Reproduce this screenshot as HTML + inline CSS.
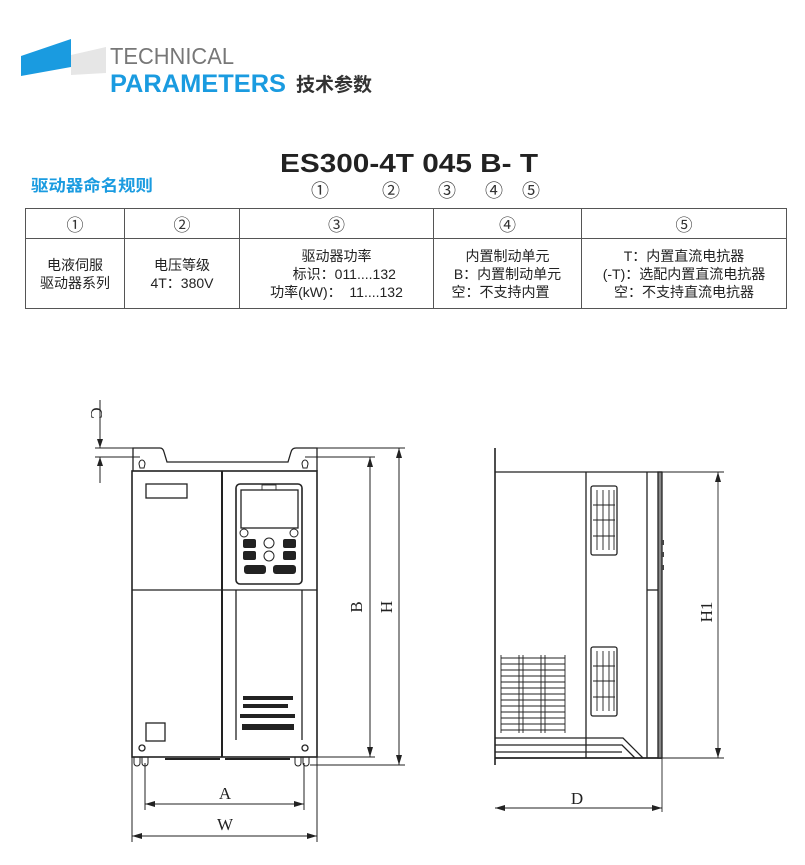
<!DOCTYPE html>
<html><head><meta charset="utf-8"><style>
html,body{margin:0;padding:0;background:#fff;}
body{width:805px;height:865px;position:relative;overflow:hidden;font-family:"Liberation Sans","Noto Sans CJK SC",sans-serif;}
.a{position:absolute;white-space:nowrap;}
table{position:absolute;left:25px;top:208px;border-collapse:collapse;width:762px;font-size:14px;color:#222;}
td{border:1px solid #555;text-align:center;padding:0;line-height:18px;}
.h td{font-size:17px;font-family:"Noto Sans CJK SC",sans-serif;color:#333;}
</style></head><body>
<svg class="a" style="left:0;top:0" width="805" height="865" viewBox="0 0 805 865">
<polygon points="21,56 71,39 71,67 21,76" fill="#1a9be0"/>
<polygon points="71,55 106,47 106,73 71,75" fill="#e6e6e6"/>
<text x="110" y="64" font-size="23" fill="#777" font-family="Liberation Sans" textLength="124" lengthAdjust="spacingAndGlyphs">TECHNICAL</text>
<text x="110" y="92" font-size="25" fill="#1a9be0" font-weight="bold" font-family="Liberation Sans" textLength="176" lengthAdjust="spacingAndGlyphs">PARAMETERS</text>
<text x="296" y="91" font-size="19" fill="#333" font-weight="bold" font-family="Noto Sans CJK SC">技术参数</text>
<text x="31" y="191" font-size="16" fill="#1a9be0" font-weight="bold" font-family="Noto Sans CJK SC" textLength="122" lengthAdjust="spacingAndGlyphs">驱动器命名规则</text>
<text x="280" y="172" font-size="26" fill="#222" font-weight="bold" font-family="Liberation Sans" textLength="258" lengthAdjust="spacingAndGlyphs">ES300-4T  045  B- T</text>
<g font-size="18" fill="#333" font-family="Noto Sans CJK SC" text-anchor="middle">
<text x="320" y="197">①</text><text x="391" y="197">②</text><text x="447" y="197">③</text><text x="494" y="197">④</text><text x="531" y="197">⑤</text>
</g>

<g stroke="#222" fill="none" stroke-width="1.3">
<path d="M133,471 L133,448 L160,448 Q163,448 164,452 L167,462 L288,462 L291,452 Q292,448 296,448 L317,448 L317,471"/>
<path d="M139,464 a3,4 0 1 1 6,0 l-1,4 h-4 z M302,464 a3,4 0 1 1 6,0 l-1,4 h-4 z" stroke-width="1"/>
<rect x="132" y="471" width="185" height="286" stroke-width="1.6"/>
<line x1="222" y1="471" x2="222" y2="757" stroke-width="2"/>
<line x1="132" y1="590" x2="317" y2="590"/>
<rect x="146" y="484" width="41" height="14"/>
<rect x="236" y="484" width="66" height="100" rx="4" stroke-width="1.6"/>
<rect x="241" y="490" width="57" height="38"/>
<rect x="262" y="485" width="14" height="5" stroke-width="0.8"/>
<line x1="236" y1="590" x2="236" y2="740"/><line x1="302" y1="590" x2="302" y2="740"/>
<rect x="146" y="723" width="19" height="18"/>
<circle cx="142" cy="748" r="3"/><circle cx="305" cy="748" r="3"/>
<path d="M134,757 v6 a3,3 0 0 0 6,0 v-6 M142,757 v6 a3,3 0 0 0 6,0 v-6 M295,757 v6 a3,3 0 0 0 6,0 v-6 M303,757 v6 a3,3 0 0 0 6,0 v-6" stroke-width="1"/>
<line x1="165" y1="759" x2="220" y2="759" stroke-width="2"/><line x1="225" y1="759" x2="290" y2="759" stroke-width="2"/>
</g>
<g fill="#222">
<circle cx="244" cy="533" r="4" fill="none" stroke="#222"/><circle cx="294" cy="533" r="4" fill="none" stroke="#222"/>
<rect x="243" y="539" width="13" height="9" rx="2"/><rect x="243" y="551" width="13" height="9" rx="2"/>
<rect x="283" y="539" width="13" height="9" rx="2"/><rect x="283" y="551" width="13" height="9" rx="2"/>
<circle cx="269" cy="543" r="5" fill="none" stroke="#222"/><circle cx="269" cy="556" r="5" fill="none" stroke="#222"/>
<rect x="244" y="565" width="22" height="9" rx="3"/><rect x="273" y="565" width="23" height="9" rx="3"/>
<rect x="243" y="696" width="50" height="4"/><rect x="243" y="704" width="45" height="4"/><rect x="240" y="714" width="55" height="4"/><rect x="242" y="724" width="52" height="6"/>
</g>
<g stroke="#222" stroke-width="1" fill="none">
<line x1="95" y1="448" x2="133" y2="448"/><line x1="95" y1="457" x2="140" y2="457"/>
<line x1="100" y1="400" x2="100" y2="448"/><line x1="100" y1="457" x2="100" y2="483"/>
<line x1="305" y1="457" x2="375" y2="457"/><line x1="317" y1="448" x2="405" y2="448"/>
<line x1="370" y1="457" x2="370" y2="757"/><line x1="399" y1="448" x2="399" y2="765"/>
<line x1="317" y1="757" x2="375" y2="757"/><line x1="310" y1="765" x2="405" y2="765"/>
<line x1="145" y1="763" x2="145" y2="810"/><line x1="304" y1="763" x2="304" y2="810"/>
<line x1="132" y1="757" x2="132" y2="842"/><line x1="317" y1="757" x2="317" y2="842"/>
<line x1="145" y1="804" x2="304" y2="804"/><line x1="132" y1="836" x2="317" y2="836"/>
</g>
<g fill="#222">
<polygon points="100,448 97,439 103,439"/><polygon points="100,457 97,466 103,466"/>
<polygon points="370,457 367,467 373,467"/><polygon points="370,757 367,747 373,747"/>
<polygon points="399,448 396,458 402,458"/><polygon points="399,765 396,755 402,755"/>
<polygon points="145,804 155,801 155,807"/><polygon points="304,804 294,801 294,807"/>
<polygon points="132,836 142,833 142,839"/><polygon points="317,836 307,833 307,839"/>
<polygon points="495,808 505,805 505,811"/><polygon points="662,808 652,805 652,811"/>
<polygon points="718,472 715,482 721,482"/><polygon points="718,758 715,748 721,748"/>
</g>
<g font-family="Liberation Serif" font-size="17" fill="#222" text-anchor="middle">
<text x="225" y="799">A</text><text x="225" y="830">W</text><text x="577" y="804">D</text>
<text transform="translate(91,413) rotate(90)">C</text>
<text transform="translate(362,607) rotate(-90)">B</text>
<text transform="translate(392,607) rotate(-90)">H</text>
<text transform="translate(712,612) rotate(-90)">H1</text>
</g>
<g stroke="#222" fill="none" stroke-width="1.3">
<line x1="495" y1="448" x2="495" y2="765" stroke-width="1.6"/>
<line x1="495" y1="472" x2="662" y2="472"/>
<line x1="495" y1="758" x2="662" y2="758" stroke-width="1.8"/>
<line x1="586" y1="472" x2="586" y2="758"/>
<line x1="647" y1="472" x2="647" y2="758"/>
<line x1="647" y1="590" x2="658" y2="590"/>
<rect x="658" y="472" width="4" height="286" fill="#888"/>
<rect x="591" y="486" width="26" height="69" rx="2"/>
<rect x="591" y="647" width="26" height="69" rx="2"/>
<path d="M495,738 L623,738 L643,758 M495,745 L622,745 L635,758 M495,752 L622,752"/>
</g>
<g stroke="#222" stroke-width="0.9" fill="none">
<path d="M597,490 v60 M603,490 v60 M609,490 v60 M614,490 v60 M597,651 v60 M603,651 v60 M609,651 v60 M614,651 v60"/>
<path d="M593,505 h22 M593,520 h22 M593,536 h22 M593,666 h22 M593,681 h22 M593,697 h22"/>
<path d="M501,655 v78 M519,655 v78 M523,655 v78 M541,655 v78 M545,655 v78 M565,655 v78"/>
<path d="M501,658 h64 M501,664 h64 M501,670 h64 M501,676 h64 M501,682 h64 M501,688 h64 M501,694 h64 M501,700 h64 M501,706 h64 M501,712 h64 M501,718 h64 M501,724 h64 M501,730 h64"/>
<line x1="662" y1="472" x2="724" y2="472"/><line x1="662" y1="758" x2="724" y2="758"/>
<line x1="718" y1="472" x2="718" y2="758"/>
<line x1="662" y1="758" x2="662" y2="812"/>
<line x1="495" y1="808" x2="662" y2="808"/>
</g>
<g fill="#444"><rect x="661" y="540" width="3" height="5"/><rect x="661" y="552" width="3" height="5"/><rect x="661" y="565" width="3" height="5"/></g>
</svg>

<table>
<tr class="h" style="height:30px"><td style="width:98px">①</td><td style="width:114px">②</td><td style="width:193px">③</td><td style="width:147px">④</td><td>⑤</td></tr>
<tr style="height:70px">
<td>电液伺服<br>驱动器系列</td>
<td>电压等级<br>4T：380V</td>
<td>驱动器功率<br>&nbsp;&nbsp;&nbsp;&nbsp;标识：011....132<br>功率(kW)：&nbsp;&nbsp;11....132</td>
<td>内置制动单元<br>B：内置制动单元<br><span style="margin-right:14px">空：不支持内置</span></td>
<td>T：内置直流电抗器<br>(-T)：选配内置直流电抗器<br>空：不支持直流电抗器</td>
</tr>
</table>
</body></html>
